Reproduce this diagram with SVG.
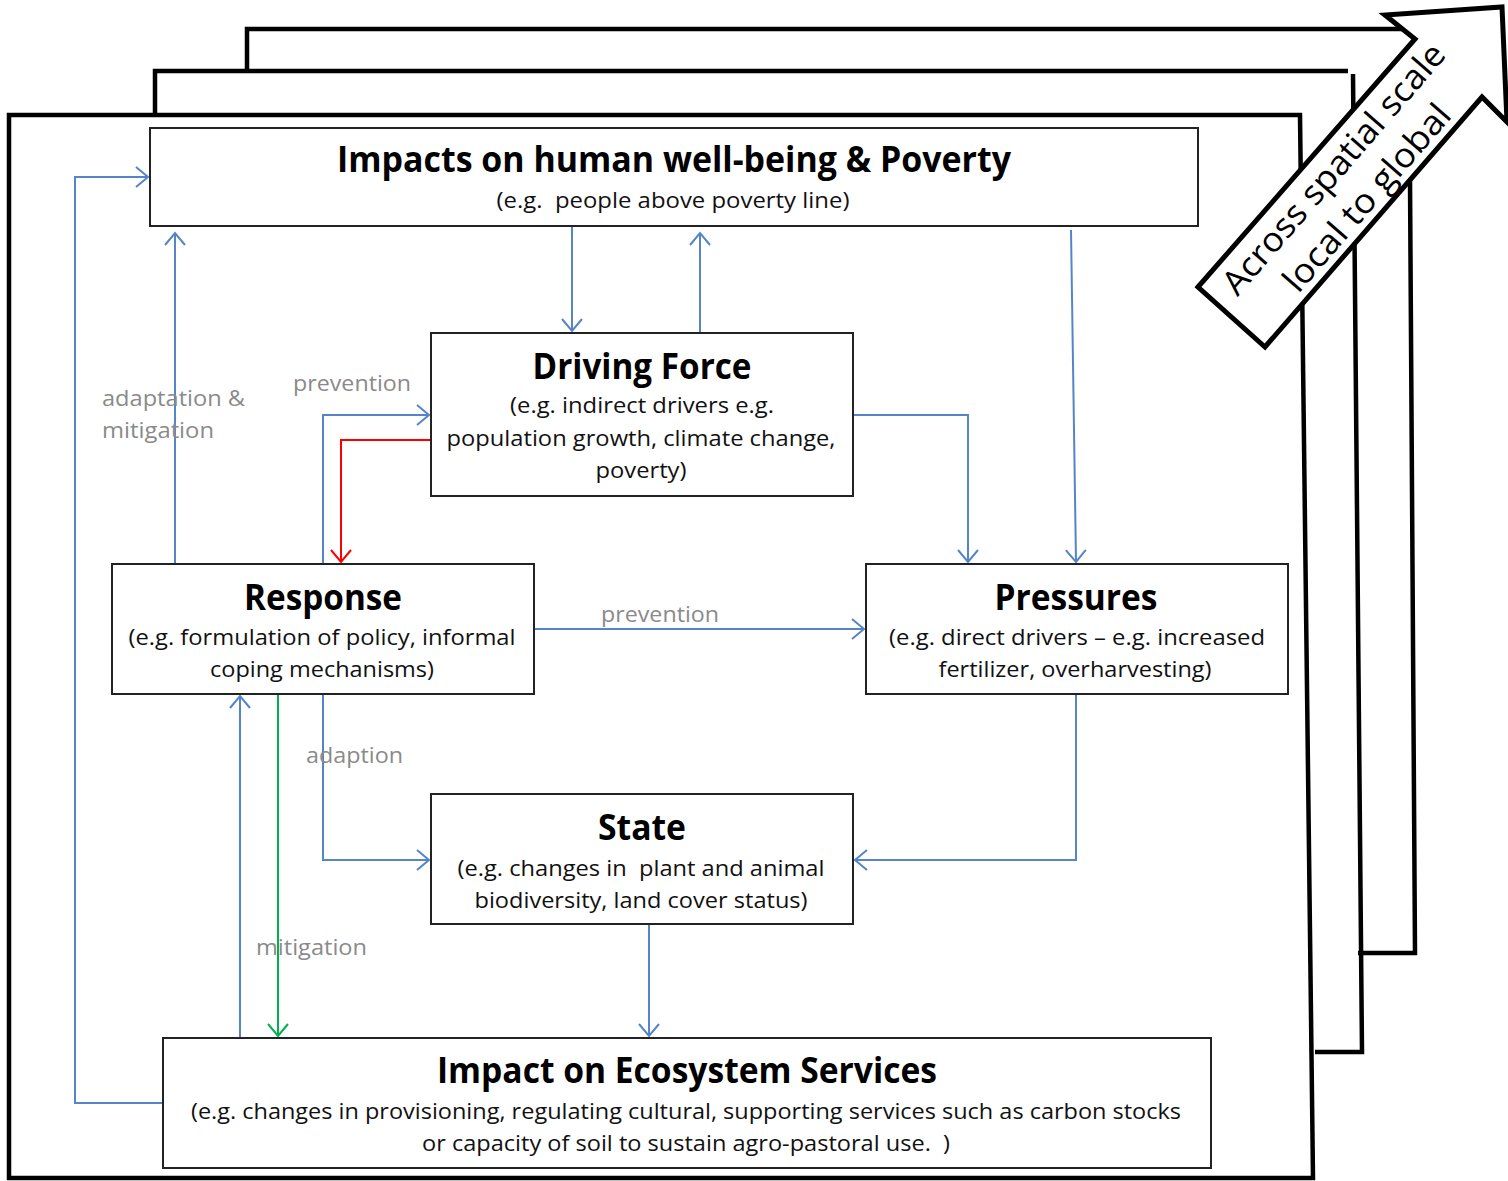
<svg xmlns="http://www.w3.org/2000/svg" width="1508" height="1181" viewBox="0 0 1508 1181">
<style>
.frame{fill:none;stroke:#000;stroke-width:4.5;stroke-linejoin:miter}
.box{fill:#fff;stroke:#222;stroke-width:2}
.t{font-family:"Open Sans","Liberation Sans",sans-serif;font-weight:bold;font-size:35px;fill:#000;text-anchor:middle}
.s{font-family:"Open Sans","Liberation Sans",sans-serif;font-size:22px;fill:#111;text-anchor:middle;white-space:pre}
.lbl{font-family:"Open Sans","Liberation Sans",sans-serif;font-size:22px;fill:#8a8a8a}
.c{fill:none;stroke:#5585C8;stroke-width:2}
.red{fill:none;stroke:#FF0000;stroke-width:2}
.grn{fill:none;stroke:#00B050;stroke-width:2}
.at{font-family:"Open Sans","Liberation Sans",sans-serif;font-size:34px;fill:#000;text-anchor:middle}
</style>
<defs>
<marker id="ab" markerUnits="userSpaceOnUse" markerWidth="16" markerHeight="24" refX="13" refY="12" orient="auto" viewBox="0 0 16 24">
<path d="M1,2 L13,12 L1,22" fill="none" stroke="#5585C8" stroke-width="2"/>
</marker>
<marker id="ar" markerUnits="userSpaceOnUse" markerWidth="16" markerHeight="24" refX="13" refY="12" orient="auto" viewBox="0 0 16 24">
<path d="M1,2 L13,12 L1,22" fill="none" stroke="#FF0000" stroke-width="2"/>
</marker>
<marker id="ag" markerUnits="userSpaceOnUse" markerWidth="16" markerHeight="24" refX="13" refY="12" orient="auto" viewBox="0 0 16 24">
<path d="M1,2 L13,12 L1,22" fill="none" stroke="#00B050" stroke-width="2"/>
</marker>
</defs>
<rect width="1508" height="1181" fill="#fff"/>

<g id="frames">
<path class="frame" d="M247,71 L247,29 L1412,29"/>
<path class="frame" d="M1410,180 L1415,953 L1358,953"/>
<path class="frame" d="M155,115 L155,71 L1348,71"/>
<path class="frame" d="M1353,74 L1362,1052 L1315,1052"/>
<path d="M9,115 L1300,115 L1313,1178 L9,1178 Z" fill="#fff" stroke="#000" stroke-width="4.5"/>
</g>

<g id="scale-arrow">
<polygon points="1198,287 1415,39 1385,15 1502,7 1507,122 1482,97 1265,347" fill="#fff" stroke="#000" stroke-width="5" stroke-linejoin="miter"/>
<g transform="translate(1350,183) rotate(-49)">
<text class="at" x="0" y="-10" textLength="320" lengthAdjust="spacingAndGlyphs">Across spatial scale</text>
<text class="at" x="0" y="34" textLength="236" lengthAdjust="spacingAndGlyphs">local to global</text>
</g>
</g>

<g id="connectors">
<path class="c" d="M163,1103 L75,1103 L75,177 L148,177" marker-end="url(#ab)"/>
<path class="c" d="M175,564 L175,233" marker-end="url(#ab)"/>
<path class="c" d="M572,226 L572,331" marker-end="url(#ab)"/>
<path class="c" d="M700,333 L700,233" marker-end="url(#ab)"/>
<path class="c" d="M1071,230 L1076,562" marker-end="url(#ab)"/>
<path class="c" d="M853,415 L968,415 L968,562" marker-end="url(#ab)"/>
<path class="c" d="M323,564 L323,415 L429,415" marker-end="url(#ab)"/>
<path class="red" d="M431,440 L341,440 L341,562" marker-end="url(#ar)"/>
<path class="c" d="M534,629 L864,629" marker-end="url(#ab)"/>
<path class="c" d="M323,694 L323,860 L429,860" marker-end="url(#ab)"/>
<path class="c" d="M240,1038 L240,696" marker-end="url(#ab)"/>
<path class="grn" d="M278,694 L278,1036" marker-end="url(#ag)"/>
<path class="c" d="M1076,694 L1076,860 L855,860" marker-end="url(#ab)"/>
<path class="c" d="M649,924 L649,1036" marker-end="url(#ab)"/>
<text class="lbl" x="102" y="406" textLength="143" lengthAdjust="spacingAndGlyphs">adaptation &amp;</text>
<text class="lbl" x="102" y="438" textLength="112" lengthAdjust="spacingAndGlyphs">mitigation</text>
<text class="lbl" x="293" y="391" textLength="118" lengthAdjust="spacingAndGlyphs">prevention</text>
<text class="lbl" x="601" y="622" textLength="118" lengthAdjust="spacingAndGlyphs">prevention</text>
<text class="lbl" x="306" y="763" textLength="97" lengthAdjust="spacingAndGlyphs">adaption</text>
<text class="lbl" x="256" y="955" textLength="111" lengthAdjust="spacingAndGlyphs">mitigation</text>
</g>

<g id="impacts-human">
<rect class="box" x="150" y="128" width="1048" height="98"/>
<text class="t" x="674" y="172" textLength="674" lengthAdjust="spacingAndGlyphs">Impacts on human well-being &amp; Poverty</text>
<text class="s" x="673" y="208" textLength="353" lengthAdjust="spacingAndGlyphs">(e.g.  people above poverty line)</text>
</g>

<g id="driving-force">
<rect class="box" x="431" y="333" width="422" height="163"/>
<text class="t" x="642" y="379" textLength="219" lengthAdjust="spacingAndGlyphs">Driving Force</text>
<text class="s" x="642" y="413" textLength="264" lengthAdjust="spacingAndGlyphs">(e.g. indirect drivers e.g.</text>
<text class="s" x="641" y="446" textLength="389" lengthAdjust="spacingAndGlyphs">population growth, climate change,</text>
<text class="s" x="641" y="478" textLength="91" lengthAdjust="spacingAndGlyphs">poverty)</text>
</g>

<g id="response">
<rect class="box" x="112" y="564" width="422" height="130"/>
<text class="t" x="323" y="610" textLength="158" lengthAdjust="spacingAndGlyphs">Response</text>
<text class="s" x="322" y="645" textLength="387" lengthAdjust="spacingAndGlyphs">(e.g. formulation of policy, informal</text>
<text class="s" x="322" y="677" textLength="224" lengthAdjust="spacingAndGlyphs">coping mechanisms)</text>
</g>

<g id="pressures">
<rect class="box" x="866" y="564" width="422" height="130"/>
<text class="t" x="1076" y="610" textLength="163" lengthAdjust="spacingAndGlyphs">Pressures</text>
<text class="s" x="1077" y="645" textLength="376" lengthAdjust="spacingAndGlyphs">(e.g. direct drivers – e.g. increased</text>
<text class="s" x="1075" y="677" textLength="273" lengthAdjust="spacingAndGlyphs">fertilizer, overharvesting)</text>
</g>

<g id="state">
<rect class="box" x="431" y="794" width="422" height="130"/>
<text class="t" x="642" y="840" textLength="88" lengthAdjust="spacingAndGlyphs">State</text>
<text class="s" x="641" y="876" textLength="367" lengthAdjust="spacingAndGlyphs">(e.g. changes in  plant and animal</text>
<text class="s" x="641" y="908" textLength="333" lengthAdjust="spacingAndGlyphs">biodiversity, land cover status)</text>
</g>

<g id="impact-ecosystem">
<rect class="box" x="163" y="1038" width="1048" height="130"/>
<text class="t" x="687" y="1083" textLength="500" lengthAdjust="spacingAndGlyphs">Impact on Ecosystem Services</text>
<text class="s" x="686" y="1119" textLength="990" lengthAdjust="spacingAndGlyphs">(e.g. changes in provisioning, regulating cultural, supporting services such as carbon stocks</text>
<text class="s" x="686" y="1151" textLength="528" lengthAdjust="spacingAndGlyphs">or capacity of soil to sustain agro-pastoral use.  )</text>
</g>
</svg>
